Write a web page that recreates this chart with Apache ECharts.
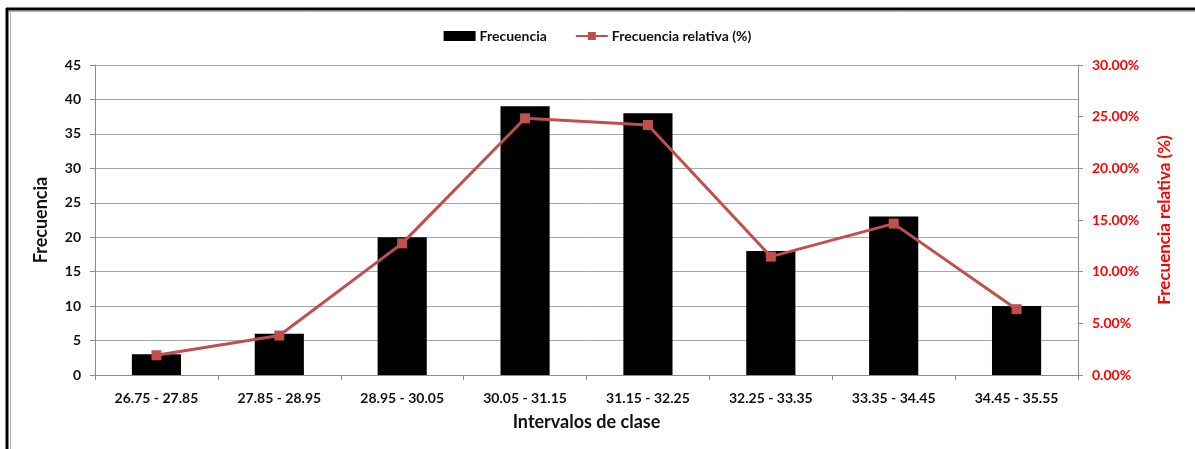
<!DOCTYPE html>
<html>
<head>
<meta charset="utf-8">
<script src="https://cdn.jsdelivr.net/npm/echarts@6/dist/echarts.min.js"></script>
<style>
html,body{margin:0;padding:0;background:#fff;}
#c{width:1195px;height:449px;}
</style>
</head>
<body>
<div id="c"></div>
<script>
const categories = ['26.75 - 27.85','27.85 - 28.95','28.95 - 30.05','30.05 - 31.15','31.15 - 32.25','32.25 - 33.35','33.35 - 34.45','34.45 - 35.55'];
const frecuencia = [3, 6, 20, 39, 38, 18, 23, 10];
const frecuenciaRelativa = [1.91, 3.82, 12.74, 24.84, 24.20, 11.46, 14.65, 6.37];
const leftTicks = {min: 0, max: 45, interval: 5};
const rightTicks = {min: 0, max: 30, interval: 5};

const FONT = 'Lato';
const chart = echarts.init(document.getElementById('c'));
chart.setOption({
  animation: false,
  backgroundColor: '#fff',
  textStyle: {fontFamily: FONT},
  graphic: [
    {type: 'line', shape: {x1: 6, y1: 9, x2: 1195, y2: 9}, style: {stroke: '#000', lineWidth: 3}},
    {type: 'line', shape: {x1: 7, y1: 8, x2: 7, y2: 449}, style: {stroke: '#000', lineWidth: 3}},
    {type: 'line', shape: {x1: 9, y1: 11.5, x2: 1195, y2: 11.5}, style: {stroke: '#b0b0b0', lineWidth: 1}},
    {type: 'line', shape: {x1: 10.5, y1: 11, x2: 10.5, y2: 449}, style: {stroke: '#b0b0b0', lineWidth: 1}}
  ],
  legend: {
    top: 24,
    left: 'center',
    itemGap: 28,
    itemWidth: 32,
    itemHeight: 10,
    textStyle: {fontFamily: FONT, fontSize: 14, fontWeight: 'bold', color: '#111', padding: [0, 0, 0, -1]},
    data: [
      {name: 'Frecuencia', icon: 'rect'},
      {name: 'Frecuencia relativa (%)'}
    ]
  },
  grid: {left: 95, right: 117, top: 65, bottom: 74, containLabel: false},
  xAxis: {
    type: 'category',
    data: categories,
    name: 'Intervalos de clase',
    nameLocation: 'middle',
    nameGap: 38,
    nameTextStyle: {fontFamily: FONT, fontSize: 18, fontWeight: 'bold', color: '#111'},
    axisLine: {lineStyle: {color: '#8c8c8c', width: 1}},
    axisTick: {show: true, length: 5, alignWithLabel: false, lineStyle: {color: '#8c8c8c'}},
    axisLabel: {fontFamily: FONT, fontSize: 14, fontWeight: 'bold', color: '#111', margin: 16, interval: 0}
  },
  yAxis: [
    {
      type: 'value',
      min: leftTicks.min, max: leftTicks.max, interval: leftTicks.interval,
      name: 'Frecuencia',
      nameLocation: 'middle',
      nameGap: 45,
      nameTextStyle: {fontFamily: FONT, fontSize: 18, fontWeight: 'bold', color: '#111'},
      axisLine: {show: true, lineStyle: {color: '#8c8c8c'}},
      axisTick: {show: true, length: 5, lineStyle: {color: '#8c8c8c'}},
      axisLabel: {fontFamily: FONT, fontSize: 14, fontWeight: 'bold', color: '#111', margin: 14},
      splitLine: {show: true, lineStyle: {color: '#a6a6a6', width: 1}}
    },
    {
      type: 'value',
      position: 'right',
      min: rightTicks.min, max: rightTicks.max, interval: rightTicks.interval,
      name: 'Frecuencia relativa (%)',
      nameLocation: 'middle',
      nameGap: 78,
      nameRotate: 90,
      nameTextStyle: {fontFamily: FONT, fontSize: 17, fontWeight: 'bold', color: '#ff0000'},
      axisLine: {show: true, lineStyle: {color: '#8c8c8c'}},
      axisTick: {show: true, length: 5, lineStyle: {color: '#8c8c8c'}},
      axisLabel: {fontFamily: FONT, fontSize: 14, fontWeight: 'bold', color: '#ff0000', margin: 14,
        formatter: v => v.toFixed(2) + '%'},
      splitLine: {show: false}
    }
  ],
  series: [
    {
      name: 'Frecuencia',
      type: 'bar',
      data: frecuencia,
      barWidth: '40%',
      itemStyle: {color: '#000'},
      yAxisIndex: 0
    },
    {
      name: 'Frecuencia relativa (%)',
      type: 'line',
      data: frecuenciaRelativa,
      yAxisIndex: 1,
      symbol: 'rect',
      symbolSize: 10,
      lineStyle: {color: '#c0504d', width: 3},
      itemStyle: {color: '#c0504d'}
    }
  ]
});
</script>
</body>
</html>
